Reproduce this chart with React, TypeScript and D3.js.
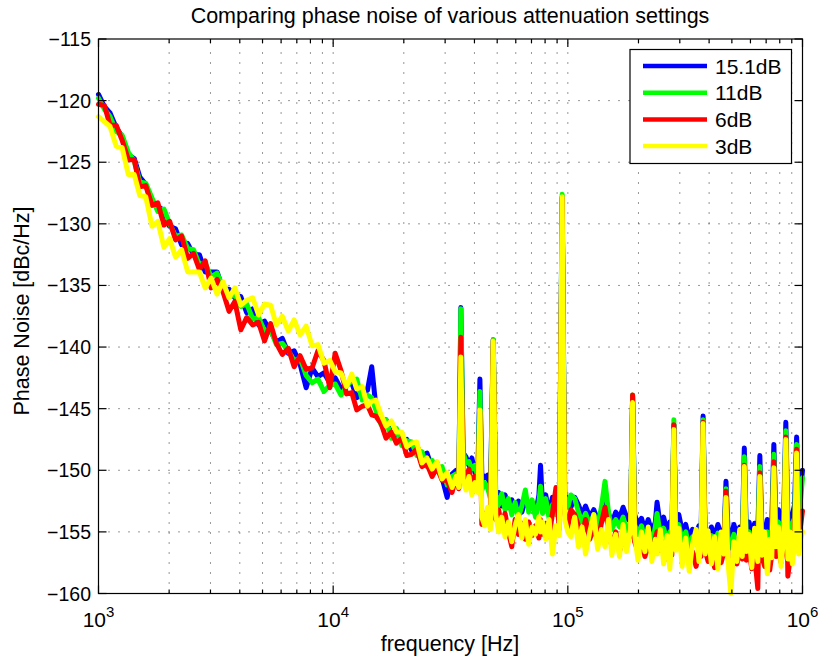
import React from 'react';
import * as d3 from 'd3';

// Frequencies [Hz] shared by all four series
const freq: number[] = [
  1000, 1060, 1120, 1190, 1260, 1340, 1420, 1500, 1590, 1690, 1790, 1900, 2010, 2130, 2260, 2400, 2540, 2690, 2850, 3020,
  3200, 3390, 3600, 3810, 4040, 4280, 4540, 4810, 5100, 5410, 5730, 6070, 6440, 6820, 7230, 7670, 8130, 8610, 9130, 9680,
  10200, 10800, 11400, 12000, 12600, 13300, 14000, 14600, 15200, 16000, 16800, 17700, 18600, 19600, 20600, 21600, 22700,
  23900, 25100, 26400, 27700, 29100, 30600, 32100, 33400, 34300,
  35000, 35800, 36800, 37900, 39000, 40200, 41400, 42200, 43000, 44200, 45500, 46800, 48100, 49300, 50700, 52300, 54000,
  55800, 57700, 59600, 61600, 63700, 65900, 68100, 70400, 72800, 75300, 76500, 78000, 80500, 83200, 86000, 89000, 92000,
  94600, 97000, 100000,
  103000, 107000, 111000, 115000, 119000, 124000, 129000, 134000, 139000, 144000, 149000, 154000, 160000, 166000, 172000,
  178000, 185000, 188800, 192600, 199000, 206000, 213000, 220000, 228000, 236000, 240000, 248000, 256000, 265000, 272000,
  277500, 283000, 288500, 297000, 307000, 318000, 329000, 340000, 352000, 362000, 369500, 377000, 384500, 396000, 409000,
  422000, 436000, 450000, 462500, 472000, 481500, 495000, 510000, 525000, 540000, 554000, 565000, 576000, 592000, 608000,
  625000, 645000, 658000, 671000, 690000, 708000, 725000, 740000, 755000, 770000, 790000, 810000, 832000, 849000, 866000,
  885000, 905000, 925000, 944000, 963000, 980000, 1000000,
];

// Phase noise [dBc/Hz], attenuation 15.1 dB
const att15: number[] = [
  -119.5, -120.5, -121.0, -122.2, -122.9, -124.4, -124.7, -126.2, -126.8, -128.3, -128.6, -128.9, -130.2, -130.4, -131.7,
  -131.6, -132.5, -132.5, -133.9, -133.9, -133.9, -135.3, -135.3, -136.0, -135.9, -137.2, -136.9, -138.2, -137.9, -138.7,
  -139.6, -139.3, -140.5, -140.3, -141.4, -143.3, -141.7, -142.4, -142.1, -142.9,
  -142.5, -143.4, -143.0, -142.9, -144.1, -143.8, -143.5, -141.6, -144.8, -146.0, -145.9, -147.1, -146.8, -147.8, -147.5,
  -148.4, -148.0, -148.9, -148.6, -149.8, -149.4, -150.6, -152.2, -150.3, -150.0, -151.0,
  -136.8, -148.6, -148.9, -149.6, -149.0, -150.2, -149.8, -142.6, -150.3, -150.6, -150.4, -151.8, -139.4, -152.5, -151.8,
  -152.9, -152.0, -153.0, -152.4, -153.2, -152.5, -153.4, -152.3, -153.1, -152.6, -153.6, -152.0, -149.6, -152.8, -152.0,
  -153.5, -152.2, -153.4, -152.6, -127.8, -152.0, -152.4,
  -153.0, -152.2, -152.8, -153.6, -152.9, -153.8, -153.2, -154.0, -153.4, -152.3, -153.5, -154.3, -153.4, -153.9, -153.0,
  -153.8, -154.2, -144.0, -153.6, -154.4, -153.9, -154.8, -154.0, -155.0, -154.2, -152.6, -154.6, -153.8, -155.0, -154.2,
  -155.1, -146.3, -154.3, -153.6, -154.9, -154.4, -155.6, -154.8, -155.3, -154.5, -155.2, -145.6, -154.9, -155.5, -154.6,
  -155.4, -154.4, -155.2, -155.7, -150.9, -154.8, -155.5, -154.4, -155.3, -154.6, -155.2, -148.2, -155.0, -154.2, -155.4,
  -154.3, -155.0, -148.8, -154.6, -155.3, -154.0, -155.1, -154.2, -147.9, -153.9, -153.2, -154.5, -153.4, -146.1, -153.8,
  -154.8, -153.6, -152.8, -147.3, -152.9, -151.8, -150.0,
];

// attenuation 11 dB
const att11: number[] = [
  -119.8, -120.7, -121.3, -122.5, -122.8, -124.2, -124.9, -126.6, -126.7, -127.9, -129.0, -128.8, -130.0, -131.0, -130.9,
  -132.0, -132.1, -133.3, -133.2, -134.3, -134.0, -135.1, -135.9, -135.8, -136.7, -136.5, -137.7, -137.6, -138.7, -138.6,
  -139.8, -139.7, -140.3, -141.1, -140.9, -142.3, -142.9, -142.6, -143.6, -143.1,
  -143.0, -143.9, -143.2, -142.7, -142.6, -144.3, -143.9, -144.1, -145.1, -146.3, -145.9, -147.4, -146.6, -148.0, -147.6,
  -147.7, -148.8, -148.5, -149.7, -149.2, -150.0, -149.7, -151.2, -150.5, -150.3, -151.2,
  -136.9, -148.5, -149.4, -149.3, -149.9, -149.6, -150.6, -143.6, -151.6, -151.0, -151.4, -152.3, -139.4, -152.0, -152.8,
  -151.9, -153.2, -152.3, -153.6, -152.6, -153.8, -152.9, -151.6, -153.4, -152.4, -153.8, -152.6, -151.3, -153.5, -152.3,
  -153.9, -152.8, -153.6, -153.0, -127.6, -152.1, -153.0,
  -152.0, -152.3, -153.4, -154.2, -153.5, -154.4, -153.6, -154.5, -153.0, -150.9, -153.4, -154.8, -154.0, -154.6, -153.8,
  -154.9, -154.3, -143.9, -154.4, -155.2, -154.5, -155.6, -154.8, -155.9, -154.6, -153.5, -155.3, -154.7, -155.8, -155.0,
  -155.6, -145.9, -155.0, -154.4, -155.7, -155.0, -156.3, -155.4, -156.0, -155.2, -155.9, -145.9, -155.6, -156.2, -155.3,
  -156.0, -155.1, -156.4, -156.0, -151.5, -155.5, -156.3, -155.2, -156.1, -155.4, -155.9, -148.9, -155.7, -155.0, -156.2,
  -155.1, -155.8, -149.7, -155.4, -156.1, -155.0, -155.8, -155.0, -148.7, -154.8, -154.2, -155.3, -154.6, -146.8, -154.6,
  -155.5, -154.3, -153.9, -147.9, -153.6, -152.5, -150.6,
];

// attenuation 6 dB
const att6: number[] = [
  -120.3, -120.4, -122.0, -122.0, -123.2, -124.8, -124.8, -127.0, -126.9, -128.5, -128.3, -130.1, -129.8, -131.3, -131.0,
  -132.8, -132.4, -133.7, -133.0, -135.2, -134.5, -135.5, -137.1, -136.3, -138.6, -137.6, -138.2, -138.0, -139.5, -138.1,
  -139.7, -140.6, -140.1, -141.6, -140.7, -141.8, -141.7, -140.3, -141.1, -143.3,
  -140.5, -141.9, -143.8, -143.7, -145.1, -144.8, -144.7, -145.5, -145.6, -146.2, -147.4, -146.9, -147.8, -147.4, -148.8,
  -148.7, -148.3, -149.7, -149.5, -150.5, -149.8, -150.8, -150.8, -151.8, -150.5, -151.5,
  -139.2, -150.0, -150.6, -149.9, -151.2, -150.5, -151.4, -145.3, -154.4, -153.5, -154.2, -153.2, -139.5, -154.0, -153.2,
  -154.6, -153.5, -155.0, -156.2, -154.0, -155.2, -154.3, -155.6, -154.2, -155.3, -154.5, -155.5, -154.0, -155.2, -154.3,
  -155.4, -153.5, -151.4, -154.8, -127.9, -153.5, -154.6,
  -153.2, -153.6, -154.5, -155.3, -154.0, -155.6, -154.6, -155.8, -154.3, -153.0, -154.8, -156.2, -155.0, -156.6, -155.4,
  -156.0, -155.2, -143.9, -155.8, -156.6, -155.7, -157.0, -156.1, -156.8, -155.5, -155.0, -156.5, -155.8, -157.2, -156.3,
  -156.9, -146.3, -156.0, -155.4, -156.8, -156.0, -157.5, -156.6, -157.8, -156.4, -157.0, -146.1, -156.5, -157.4, -156.3,
  -157.9, -156.8, -157.5, -156.6, -151.7, -157.0, -158.2, -156.9, -157.6, -156.5, -157.2, -149.6, -157.3, -156.4, -158.0,
  -156.9, -159.6, -150.2, -157.0, -157.8, -156.6, -158.1, -156.8, -149.3, -157.0, -156.2, -157.5, -156.3, -147.3, -158.6,
  -157.2, -156.0, -155.2, -148.3, -155.8, -154.6, -153.3,
];

// attenuation 3 dB
const att3: number[] = [
  -121.3, -121.7, -122.1, -123.7, -123.8, -126.0, -126.0, -127.7, -127.8, -130.2, -129.8, -131.9, -131.2, -132.7, -132.1,
  -133.9, -133.9, -133.9, -135.2, -134.4, -135.7, -134.7, -136.0, -135.2, -136.6, -136.2, -136.0, -137.4, -136.5, -136.6,
  -138.2, -137.5, -138.7, -137.8, -139.0, -138.3, -139.9, -139.8, -141.3, -141.1,
  -142.0, -142.1, -143.2, -142.2, -143.4, -143.2, -144.8, -144.4, -144.3, -145.5, -146.4, -146.0, -146.9, -146.9, -148.1,
  -147.8, -147.7, -149.4, -149.0, -149.9, -149.3, -150.7, -150.2, -151.4, -150.5, -151.4,
  -140.8, -150.8, -151.6, -150.5, -152.0, -151.0, -151.8, -145.1, -153.8, -154.5, -153.0, -154.8, -139.5, -153.6, -155.0,
  -153.8, -155.4, -154.2, -155.8, -154.5, -153.6, -155.5, -154.0, -156.0, -154.6, -155.2, -153.8, -155.0, -154.2, -155.6,
  -154.0, -156.8, -154.5, -155.3, -127.8, -154.0, -155.0,
  -155.4, -153.8, -156.2, -154.6, -156.8, -155.0, -153.6, -156.4, -154.8, -156.2, -154.0, -156.9, -155.2, -157.0, -154.4,
  -156.6, -154.8, -144.5, -155.2, -157.3, -155.0, -156.6, -154.6, -157.4, -155.6, -156.8, -154.8, -157.6, -155.3, -158.0,
  -155.6, -146.7, -156.5, -154.7, -157.8, -155.5, -158.2, -156.0, -154.8, -157.4, -155.8, -146.2, -156.8, -154.9, -157.6,
  -155.4, -158.0, -155.0, -156.8, -152.2, -157.5, -160.0, -155.8, -157.4, -154.8, -157.0, -149.7, -156.6, -155.2, -157.9,
  -154.7, -157.4, -150.5, -156.9, -155.0, -158.4, -155.6, -157.1, -149.8, -156.2, -154.6, -157.8, -155.4, -147.5, -157.2,
  -155.0, -157.6, -156.0, -148.6, -156.8, -155.6, -155.0,
];

const seriesNames = ['15.1dB', '11dB', '6dB', '3dB'];
const seriesColors = ['#0000ff', '#00ff00', '#ff0000', '#ffff00'];
const seriesData = [att15, att11, att6, att3];

const yTicks = [-160, -155, -150, -145, -140, -135, -130, -125, -120, -115];
const xDecades = [1e3, 1e4, 1e5, 1e6];
const xTickExp = ['3', '4', '5', '6'];

const titleText = 'Comparing phase noise of various attenuation settings';
const xLabelText = 'frequency [Hz]';
const yLabelText = 'Phase Noise [dBc/Hz]';

const FONT = '"Liberation Sans", Arial, Helvetica, sans-serif';

export default function App() {
  const W = 820;
  const H = 662;
  const left = 98.5;
  const right = 802.5;
  const top = 39;
  const bottom = 593.5;

  const x = d3.scaleLog().domain([1e3, 1e6]).range([left, right]);
  const y = d3.scaleLinear().domain([-160, -115]).range([bottom, top]);

  const isDecade = (t: number) => Math.abs(Math.log10(t) - Math.round(Math.log10(t))) < 1e-9;
  const minorTicks = x.ticks().filter((t) => !isDecade(t));

  const line = d3
    .line<number>()
    .x((_d, i) => x(freq[i]))
    .y((d) => y(d));

  const gridStyle = { stroke: '#303030', strokeWidth: 1, strokeDasharray: '1 9' };
  const majorLen = 8;
  const minorLen = 4;

  const legendX = 630;
  const legendY = 49.5;
  const legendW = 161.5;
  const legendH = 114;
  const rowY = (i: number) => 66 + i * 26.7;

  return (
    <svg
      width={W}
      height={H}
      style={{ position: 'absolute', left: 0, top: 0, background: '#fff', fontFamily: FONT }}
    >
      <rect x={0} y={0} width={W} height={H} fill="#fff" />
      <rect x={left} y={top} width={right - left} height={bottom - top} fill="#fff" />

      {/* grid */}
      <g>
        {yTicks
          .filter((t) => t !== -160 && t !== -115)
          .map((t) => (
            <line key={'gy' + t} x1={left} x2={right} y1={y(t)} y2={y(t)} style={gridStyle} />
          ))}
        {x.ticks()
          .filter((t) => t > 1e3 && t < 1e6)
          .map((t) => (
            <line key={'gx' + t} x1={x(t)} x2={x(t)} y1={bottom} y2={top} style={gridStyle} />
          ))}
      </g>

      {/* data lines */}
      <g fill="none" strokeWidth={5} strokeLinejoin="round" strokeLinecap="round">
        {seriesData.map((s, k) => (
          <path key={seriesNames[k]} d={line(s) || ''} stroke={seriesColors[k]} />
        ))}
      </g>

      {/* axes box and ticks */}
      <g stroke="#000" strokeWidth={1.2}>
        <rect x={left} y={top} width={right - left} height={bottom - top} fill="none" />
        {yTicks.map((t) => (
          <g key={'ty' + t}>
            <line x1={left} x2={left + majorLen} y1={y(t)} y2={y(t)} />
            <line x1={right} x2={right - majorLen} y1={y(t)} y2={y(t)} />
          </g>
        ))}
        {xDecades.map((t) => (
          <g key={'tx' + t}>
            <line x1={x(t)} x2={x(t)} y1={bottom} y2={bottom - majorLen} />
            <line x1={x(t)} x2={x(t)} y1={top} y2={top + majorLen} />
          </g>
        ))}
        {minorTicks.map((t) => (
          <g key={'tm' + t}>
            <line x1={x(t)} x2={x(t)} y1={bottom} y2={bottom - minorLen} />
            <line x1={x(t)} x2={x(t)} y1={top} y2={top + minorLen} />
          </g>
        ))}
      </g>

      {/* tick labels */}
      <g fill="#000" fontSize={19.5}>
        {yTicks.map((t) => (
          <text key={'ly' + t} x={91} y={y(t) + 7} textAnchor="end">
            {'\u2212' + Math.abs(t)}
          </text>
        ))}
      </g>
      <g fill="#000">
        {xDecades.map((t, i) => (
          <text key={'lx' + t} x={x(t)} y={627} textAnchor="middle" fontSize={21}>
            10
            <tspan dy={-10} fontSize={15}>
              {xTickExp[i]}
            </tspan>
          </text>
        ))}
      </g>

      {/* titles */}
      <text x={450} y={23} textAnchor="middle" fontSize={21.5} fill="#000">
        {titleText}
      </text>
      <text x={450} y={651} textAnchor="middle" fontSize={21.5} fill="#000">
        {xLabelText}
      </text>
      <text
        transform={`translate(28.7, 311) rotate(-90)`}
        textAnchor="middle"
        fontSize={21.5}
        fill="#000"
      >
        {yLabelText}
      </text>

      {/* legend */}
      <g>
        <rect x={legendX} y={legendY} width={legendW} height={legendH} fill="#fff" stroke="#000" strokeWidth={1.2} />
        {seriesNames.map((n, i) => (
          <g key={'lg' + n}>
            <line x1={643} x2={707} y1={rowY(i)} y2={rowY(i)} stroke={seriesColors[i]} strokeWidth={4.5} />
            <text x={715} y={rowY(i) + 7.5} fontSize={21} fill="#000">
              {n}
            </text>
          </g>
        ))}
      </g>
    </svg>
  );
}
